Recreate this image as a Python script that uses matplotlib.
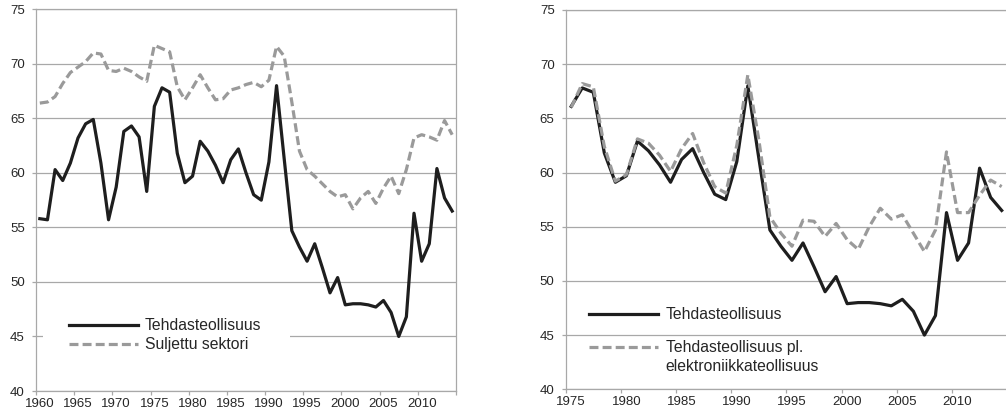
import numpy as np
import matplotlib
matplotlib.use('Agg')
import matplotlib.pyplot as plt
from matplotlib.patches import Rectangle

plt.rcParams['font.family'] = ['Liberation Sans', 'DejaVu Sans']

# ---- data ----
years_left = list(range(1960, 2015))
years_right = list(range(1975, 2015))

tehdas = [55.8, 55.7, 60.3, 59.3, 60.9, 63.2, 64.5, 64.9, 60.9, 55.7,
          58.7, 63.8, 64.3, 63.3, 58.3, 66.1, 67.8, 67.4, 61.8, 59.1,
          59.7, 62.9, 62.0, 60.7, 59.1, 61.2, 62.2, 60.0, 58.0, 57.5,
          61.0, 68.0, 61.3, 54.7, 53.2, 51.9, 53.5, 51.3, 49.0, 50.4,
          47.9, 48.0, 48.0, 47.9, 47.7, 48.3, 47.2, 45.0, 46.8, 56.3,
          51.9, 53.5, 60.4, 57.7, 56.5]

suljettu = [66.4, 66.5, 67.0, 68.2, 69.2, 69.7, 70.2, 71.0, 70.9, 69.4,
            69.3, 69.6, 69.3, 68.8, 68.4, 71.7, 71.4, 71.1, 67.9, 66.7,
            67.8, 69.0, 67.8, 66.7, 66.8, 67.6, 67.8, 68.1, 68.3, 67.9,
            68.5, 71.6, 70.7, 66.5, 62.0, 60.3, 59.7, 59.0, 58.3, 57.8,
            58.0, 56.7, 57.7, 58.3, 57.2, 58.6, 59.7, 58.1, 60.3, 63.2,
            63.5, 63.3, 63.0, 64.8, 63.5]

tehdas_pl_elektro = [66.0, 68.2, 67.9, 62.4, 59.2, 59.8, 63.1, 62.7, 61.6, 60.1,
                     62.2, 63.6, 60.9, 58.7, 58.1, 62.5, 69.0, 63.0, 55.9, 54.4,
                     53.2, 55.6, 55.5, 54.1, 55.3, 53.8, 52.9, 55.0, 56.7, 55.7,
                     56.1, 54.4, 52.7, 54.7, 61.9, 56.3, 56.3, 57.9, 59.3, 58.7]

tehdas_right = tehdas[years_left.index(1975):]

# ---- styles ----
GRID = '#a8a8a8'
BLACK = '#1e1e1e'
GREY = '#9a9a9a'
TXT = '#262626'
LW = 2.3
DASH = (0, (2.8, 1.3))

fig = plt.figure(figsize=(10.06, 4.16), dpi=100)
W, H = 1006, 416
ax1 = fig.add_axes([36 / W, 1 - 391 / H, 420 / W, 381.7 / H])
ax2 = fig.add_axes([565.7 / W, 1 - 389.3 / H, 441.5 / W, 379.4 / H])


def style_axes(ax, first, last, label_years):
    ax.set_ylim(40, 75)
    ax.set_xlim(first - 0.5, last + 0.5)
    ax.set_yticks(np.arange(40, 76, 5))
    ax.set_xticks(label_years)
    ax.set_xticks(np.arange(first - 0.5, last + 0.51, 5), minor=True)
    ax.grid(axis='y', color=GRID, linewidth=0.9)
    ax.set_axisbelow(True)
    for s in ax.spines.values():
        s.set_color(GRID)
        s.set_linewidth(0.9)
    ax.tick_params(axis='y', length=3, width=0.9, color=GRID, pad=5,
                   labelsize=9.5, labelcolor=TXT)
    ax.tick_params(axis='x', which='major', length=0, pad=5, labelsize=9.5,
                   labelcolor=TXT)
    ax.tick_params(axis='x', which='minor', length=3, width=0.9, color=GRID)


def legend_box(ax, x0, x1, y0, y1):
    # valkoinen tausta legendalle, peittää ruudukon
    ax.add_patch(Rectangle((x0, y0), x1 - x0, y1 - y0, transform=ax.transAxes,
                           facecolor='white', edgecolor='none', zorder=1.5))


# ---- vasen kuva ----
ax1.plot(years_left, tehdas, color=BLACK, lw=LW, zorder=3)
ax1.plot(years_left, suljettu, color=GREY, lw=LW, ls=DASH, zorder=3)
style_axes(ax1, 1960, 2014, list(range(1960, 2011, 5)))

legend_box(ax1, 0.017, 0.605, 0.07, 0.20)
ax1.plot([0.0786, 0.2429], [0.1729, 0.1729], transform=ax1.transAxes,
         color=BLACK, lw=LW, zorder=4)
ax1.plot([0.0786, 0.2429], [0.1231, 0.1231], transform=ax1.transAxes,
         color=GREY, lw=LW, ls=DASH, zorder=4)
ax1.text(0.2595, 0.1729, 'Tehdasteollisuus', transform=ax1.transAxes,
         fontsize=11.3, color=TXT, va='center', zorder=4)
ax1.text(0.2595, 0.1231, 'Suljettu sektori', transform=ax1.transAxes,
         fontsize=11.3, color=TXT, va='center', zorder=4)

# ---- oikea kuva ----
ax2.plot(years_right, tehdas_right, color=BLACK, lw=LW, zorder=3)
ax2.plot(years_right, tehdas_pl_elektro, color=GREY, lw=LW, ls=DASH, zorder=3)
style_axes(ax2, 1975, 2014, list(range(1975, 2011, 5)))

legend_box(ax2, 0.0256, 0.6032, 0.04, 0.135)
ax2.plot([0.0528, 0.209], [0.1977, 0.1977], transform=ax2.transAxes,
         color=BLACK, lw=LW, zorder=4)
ax2.plot([0.0528, 0.209], [0.1107, 0.1107], transform=ax2.transAxes,
         color=GREY, lw=LW, ls=DASH, zorder=4)
ax2.text(0.2265, 0.1977, 'Tehdasteollisuus', transform=ax2.transAxes,
         fontsize=11.3, color=TXT, va='center', zorder=4)
ax2.text(0.2265, 0.1107, 'Tehdasteollisuus pl.', transform=ax2.transAxes,
         fontsize=11.3, color=TXT, va='center', zorder=4)
ax2.text(0.2265, 0.0614, 'elektroniikkateollisuus', transform=ax2.transAxes,
         fontsize=11.3, color=TXT, va='center', zorder=4)

fig.savefig('out.png', dpi=100)
